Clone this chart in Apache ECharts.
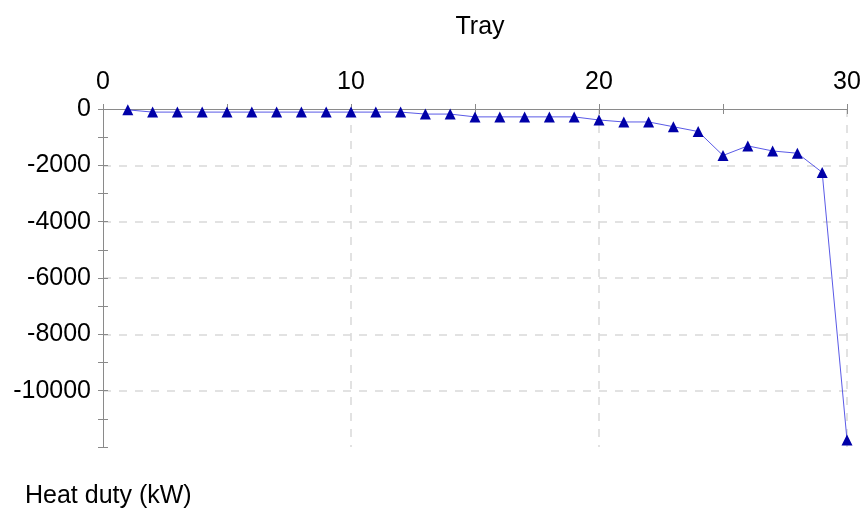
<!DOCTYPE html>
<html>
<head>
<meta charset="utf-8">
<script src="https://cdn.jsdelivr.net/npm/echarts@6/dist/echarts.min.js"></script>
<style>
  html, body { margin: 0; padding: 0; background: #fff; }
  #chart { width: 864px; height: 511px; }
</style>
</head>
<body>
<div id="chart"></div>
<script>
// Tray-by-tray heat duty profile
const trays = [1, 2, 3, 4, 5, 6, 7, 8, 9, 10, 11, 12, 13, 14, 15,
               16, 17, 18, 19, 20, 21, 22, 23, 24, 25, 26, 27, 28, 29, 30];
const heatDuty = [-30, -110, -110, -110, -110, -110, -110, -110, -110, -110, -110, -110, -180, -180, -280,
                  -280, -280, -280, -280, -390, -460, -460, -630, -800, -1650, -1310, -1490, -1570, -2250, -11750];
const xTicks = [0, 10, 20, 30];
const yTicks = [0, -2000, -4000, -6000, -8000, -10000];

const FONT = 'Liberation Sans, Arial, sans-serif';
const FONT_SIZE = 25;
const TEXT_COLOR = '#000';
const AXIS_GRAY = '#8a8a8a';
const GRID_GRAY = '#d9d9d9';

const chart = echarts.init(document.getElementById('chart'), null, { renderer: 'canvas' });

const points = trays.map((t, i) => [t, heatDuty[i]]);

chart.setOption({
  animation: false,
  backgroundColor: '#fff',
  title: [
    { text: 'Tray', left: 475, top: 10, textAlign: 'center',
      textStyle: { fontFamily: FONT, fontSize: FONT_SIZE, fontWeight: 'normal', color: TEXT_COLOR } },
    { text: 'Heat duty (kW)', left: 20, top: 479,
      textStyle: { fontFamily: FONT, fontSize: FONT_SIZE, fontWeight: 'normal', color: TEXT_COLOR } }
  ],
  grid: { left: 103, right: 17, top: 109, bottom: 64 },
  xAxis: [
    {
      type: 'value', position: 'top', min: 0, max: 30, interval: 10,
      axisLine: { show: true, lineStyle: { color: AXIS_GRAY, width: 1 } },
      axisTick: { show: true, length: 5, lineStyle: { color: AXIS_GRAY } },
      minorTick: { show: true, splitNumber: 2, length: 5, lineStyle: { color: AXIS_GRAY } },
      axisLabel: { fontFamily: FONT, fontSize: FONT_SIZE, color: TEXT_COLOR, margin: 14,
                   formatter: v => xTicks.includes(v) ? String(v) : '' },
      splitLine: { show: true, showMinLine: false, showMaxLine: true,
                   lineStyle: { color: GRID_GRAY, type: [8, 8], width: 1.5 } }
    },
    {
      // inward tick marks along the top axis
      type: 'value', position: 'top', min: 0, max: 30, interval: 10,
      axisLine: { show: false },
      axisTick: { show: true, inside: true, length: 5, lineStyle: { color: AXIS_GRAY } },
      minorTick: { show: true, splitNumber: 2, length: 5, lineStyle: { color: AXIS_GRAY } },
      axisLabel: { show: false },
      splitLine: { show: false }
    }
  ],
  yAxis: [
    {
      type: 'value', min: -12000, max: 0, interval: 2000,
      axisLine: { show: true, lineStyle: { color: AXIS_GRAY, width: 1 } },
      axisTick: { show: true, length: 5, lineStyle: { color: AXIS_GRAY } },
      minorTick: { show: true, splitNumber: 2, length: 5, lineStyle: { color: AXIS_GRAY } },
      axisLabel: { fontFamily: FONT, fontSize: FONT_SIZE, color: TEXT_COLOR, margin: 12,
                   padding: [9, 0, 0, 0],
                   formatter: v => yTicks.includes(v) ? String(v) : '' },
      splitLine: { show: true, showMinLine: false, showMaxLine: false,
                   lineStyle: { color: GRID_GRAY, type: [8, 8], width: 1.5 } }
    },
    {
      // inward tick marks along the left axis
      type: 'value', position: 'left', min: -12000, max: 0, interval: 2000,
      axisLine: { show: false },
      axisTick: { show: true, inside: true, length: 5, lineStyle: { color: AXIS_GRAY } },
      minorTick: { show: true, splitNumber: 2, length: 5, lineStyle: { color: AXIS_GRAY } },
      axisLabel: { show: false },
      splitLine: { show: false }
    }
  ],
  series: [
    {
      type: 'line',
      data: points,
      xAxisIndex: 0, yAxisIndex: 0,
      symbol: 'triangle', symbolSize: 11,
      itemStyle: { color: '#0000a8' },
      lineStyle: { color: '#5a5ae6', width: 1 },
      z: 5
    }
  ]
});
</script>
</body>
</html>
